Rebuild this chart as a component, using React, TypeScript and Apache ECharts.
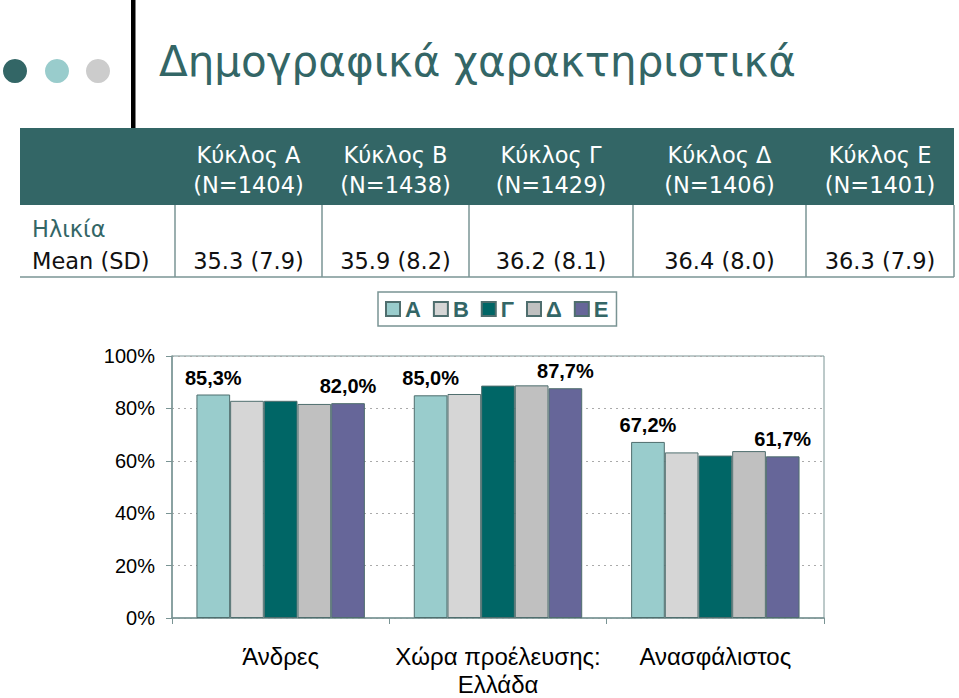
import React, { useEffect, useRef } from "react";
import * as echarts from "echarts";

const categories = ["Άνδρες", "Χώρα προέλευσης:\nΕλλάδα", "Ανασφάλιστος"];
const seriesNames = ["Α", "Β", "Γ", "Δ", "Ε"];
const valuesA = [85.3, 85.0, 67.2];
const valuesB = [82.9, 85.5, 63.2];
const valuesG = [82.9, 88.7, 62.0];
const valuesD = [81.7, 88.8, 63.7];
const valuesE = [82.0, 87.7, 61.7];
const seriesColors = ["#99CCCC", "#D6D6D6", "#006666", "#C0C0C0", "#666699"];
const labelledSeries = [true, false, false, false, true];

const yTicks = [0, 20, 40, 60, 80, 100];

const titleText = "Δημογραφικά χαρακτηριστικά";
const headerLine1 = ["Κύκλος Α", "Κύκλος Β", "Κύκλος Γ", "Κύκλος Δ", "Κύκλος Ε"];
const headerLine2 = ["(N=1404)", "(N=1438)", "(N=1429)", "(N=1406)", "(N=1401)"];
const ageValues = ["35.3 (7.9)", "35.9 (8.2)", "36.2 (8.1)", "36.4 (8.0)", "36.3 (7.9)"];
const rowLabel1 = "Ηλικία";
const rowLabel2 = "Mean (SD)";

export default function App() {
  const ref = useRef<HTMLDivElement>(null);

  useEffect(() => {
    if (!ref.current) return;
    const chart = echarts.init(ref.current, undefined, { renderer: "svg" });

    const teal = "#336666";
    const lineCol = "#7a9494";
    const tableFont = "DejaVu Sans";
    const chartFont = "Liberation Sans";

    // table geometry
    const tLeft = 20;
    const tRight = 954;
    const tTop = 128;
    const hBottom = 205;
    const tBottom = 277;
    const colEdges = [175, 322, 469, 633, 806, 954];

    const graphics: any[] = [];
    // logo circles
    graphics.push({ type: "circle", shape: { cx: 15, cy: 71, r: 12 }, style: { fill: "#336666" } });
    graphics.push({ type: "circle", shape: { cx: 57, cy: 71, r: 12 }, style: { fill: "#99CCCC" } });
    graphics.push({ type: "circle", shape: { cx: 98, cy: 71, r: 12 }, style: { fill: "#CCCCCC" } });
    // vertical black bar
    graphics.push({ type: "rect", shape: { x: 131, y: 0, width: 4.5, height: tTop }, style: { fill: "#000" } });
    // title
    graphics.push({
      type: "text",
      x: 159,
      y: 61,
      style: {
        text: titleText,
        fill: teal,
        font: `42px '${tableFont}'`,
        verticalAlign: "middle",
        align: "left",
      },
    });
    // header
    graphics.push({
      type: "rect",
      shape: { x: tLeft, y: tTop, width: tRight - tLeft, height: hBottom - tTop },
      style: { fill: teal },
    });
    // body lines
    graphics.push({
      type: "line",
      shape: { x1: tLeft, y1: tBottom, x2: tRight, y2: tBottom },
      style: { stroke: lineCol, lineWidth: 1.5 },
    });
    colEdges.forEach((x) => {
      graphics.push({
        type: "line",
        shape: { x1: x, y1: hBottom, x2: x, y2: tBottom },
        style: { stroke: lineCol, lineWidth: 1.5 },
      });
    });
    for (let i = 0; i < 5; i++) {
      const cx = (colEdges[i] + colEdges[i + 1]) / 2;
      graphics.push({
        type: "text",
        x: cx,
        y: 155,
        style: { text: headerLine1[i], fill: "#fff", font: `22.5px '${tableFont}'`, align: "center", verticalAlign: "middle" },
      });
      graphics.push({
        type: "text",
        x: cx,
        y: 185,
        style: { text: headerLine2[i], fill: "#fff", font: `22.5px '${tableFont}'`, align: "center", verticalAlign: "middle" },
      });
      graphics.push({
        type: "text",
        x: cx,
        y: 261,
        style: { text: ageValues[i], fill: "#111", font: `22.5px '${tableFont}'`, align: "center", verticalAlign: "middle" },
      });
    }
    graphics.push({
      type: "text",
      x: 32,
      y: 229,
      style: { text: rowLabel1, fill: teal, font: `22.5px '${tableFont}'`, align: "left", verticalAlign: "middle" },
    });
    graphics.push({
      type: "text",
      x: 32,
      y: 261,
      style: { text: rowLabel2, fill: "#111", font: `22.5px '${tableFont}'`, align: "left", verticalAlign: "middle" },
    });

    const allValues = [valuesA, valuesB, valuesG, valuesD, valuesE];

    const series = allValues.map((vals, i) => ({
      name: seriesNames[i],
      type: "bar",
      data: vals,
      barGap: "0%",
      barCategoryGap: "22.5%",
      itemStyle: { color: seriesColors[i], borderColor: "#4f6e6e", borderWidth: 1 },
      label: {
        show: labelledSeries[i],
        position: "top",
        distance: 7,
        fontFamily: chartFont,
        fontSize: 20,
        fontWeight: "bold",
        color: "#000",
        formatter: (p: any) => Number(p.value).toFixed(1).replace(".", ",") + "%",
      },
    }));

    chart.setOption({
      animation: false,
      backgroundColor: "#fff",
      textStyle: { fontFamily: chartFont },
      graphic: graphics,
      legend: {
        data: seriesNames,
        left: 378,
        top: 292,
        padding: [6, 8, 6, 7],
        itemGap: 12,
        itemWidth: 14,
        itemHeight: 14,
        icon: "rect",
        borderColor: lineCol,
        borderWidth: 1.5,
        textStyle: { fontFamily: chartFont, fontSize: 22, fontWeight: "bold", color: teal, lineHeight: 22 },
      },
      grid: {
        left: 172,
        top: 356,
        right: 959 - 824,
        bottom: 698 - 622,
        show: true,
        borderColor: lineCol,
        borderWidth: 1,
        backgroundColor: "transparent",
        containLabel: false,
      },
      xAxis: {
        type: "category",
        data: categories,
        axisLine: { lineStyle: { color: lineCol, width: 1.5 } },
        axisTick: { show: true, alignWithLabel: false, length: 6, lineStyle: { color: lineCol } },
        axisLabel: { fontFamily: chartFont, fontSize: 24, lineHeight: 28, color: "#000", margin: 24, interval: 0 },
      },
      yAxis: {
        type: "value",
        min: yTicks[0],
        max: yTicks[yTicks.length - 1],
        interval: 20,
        axisLine: { show: true, lineStyle: { color: lineCol, width: 1.5 } },
        axisTick: { show: true, length: 6, lineStyle: { color: lineCol } },
        axisLabel: { fontFamily: chartFont, fontSize: 20, color: "#000", margin: 17, formatter: "{value}%" },
        splitLine: { show: true, lineStyle: { color: "#aaaaaa", type: [2, 4], width: 1 } },
      },
      series,
    });

    return () => {
      chart.dispose();
    };
  }, []);

  return (
    <div
      ref={ref}
      style={{ position: "fixed", left: 0, top: 0, width: 959, height: 698, background: "#fff" }}
    />
  );
}
